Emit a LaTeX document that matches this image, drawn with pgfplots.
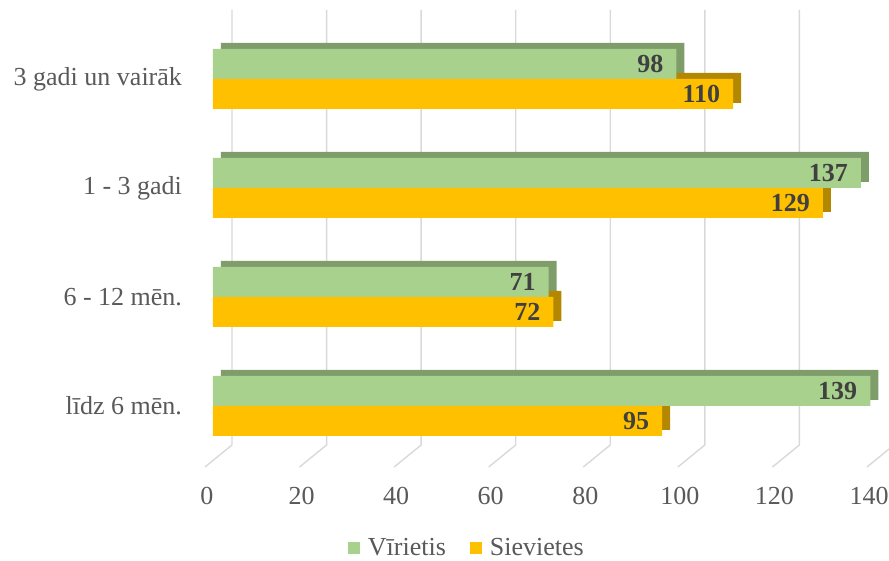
\documentclass[border=0pt]{standalone}
\usepackage{pgfplots}
\pgfplotsset{compat=1.18}
\usepackage{fontspec}
\setmainfont{Liberation Serif}

\definecolor{vgreen}{HTML}{A9D18E}
\definecolor{vgreendk}{HTML}{7F9C6B}
\definecolor{sorange}{HTML}{FFC000}
\definecolor{sorangedk}{HTML}{B38700}
\definecolor{txtgray}{HTML}{595959}
\definecolor{lblgray}{HTML}{404040}
\definecolor{gridgray}{HTML}{D9D9D9}

\begin{document}
\begin{tikzpicture}
\begin{axis}[
  at={(106.5pt,50.25pt)}, anchor=south west,
  scale only axis, width=331pt, height=218pt,
  xbar, bar width=15pt,
  xmin=0, xmax=140, ymin=-0.5, ymax=3.5,
  xtick={0,20,...,140}, ytick={0,1,2,3},
  yticklabels={līdz 6 mēn., 6 - 12 mēn., 1 - 3 gadi, 3 gadi un vairāk},
  axis line style={draw=none}, major tick length=0pt,
  clip=false,
  /pgf/number format/assume math mode=true,
  tick label style={font=\fontsize{13}{15}\selectfont, text=txtgray},
  xticklabel style={xshift=-3pt, yshift=-10pt},
  yticklabel style={xshift=-12pt},
  legend columns=2,
  legend style={draw=none, at={(0.388,-0.2007)}, anchor=center,
    font=\fontsize{13}{15}\selectfont, text=txtgray,
    nodes={inner xsep=4pt},
    /tikz/every even column/.append style={column sep=8pt}},
  legend image code/.code={\fill[#1] (0pt,-3pt) rectangle (6pt,3pt);},
  nodes near coords style={anchor=east, xshift=-3pt,
    font=\fontsize{13}{15}\selectfont\bfseries, text=lblgray},
]
\pgfplotsinvokeforeach{0,20,...,140}{
  \draw[gridgray, line width=0.7pt]
    ([xshift=9.5pt,yshift=7.25pt]axis cs:#1,3.5) --
    ([xshift=9.5pt,yshift=7.75pt]axis cs:#1,-0.5) --
    ([xshift=-4pt,yshift=-3.25pt]axis cs:#1,-0.5);
}
% depth faces
\addplot[forget plot, fill=vgreendk, draw=none, bar shift=10.5pt, xshift=4pt]
  coordinates {(139,0) (71,1) (137,2) (98,3)};
\addplot[forget plot, fill=sorangedk, draw=none, bar shift=-4.5pt, xshift=4pt]
  coordinates {(95,0) (72,1) (129,2) (110,3)};
% front faces
\addplot[fill=vgreen, draw=none, bar shift=7.5pt, nodes near coords]
  coordinates {(139,0) (71,1) (137,2) (98,3)};
\addplot[fill=sorange, draw=none, bar shift=-7.5pt, nodes near coords]
  coordinates {(95,0) (72,1) (129,2) (110,3)};
\legend{Vīrietis, Sievietes}
\end{axis}
\pgfresetboundingbox
\path (0,0) rectangle (444.5pt,280.5pt);
\end{tikzpicture}
\end{document}
